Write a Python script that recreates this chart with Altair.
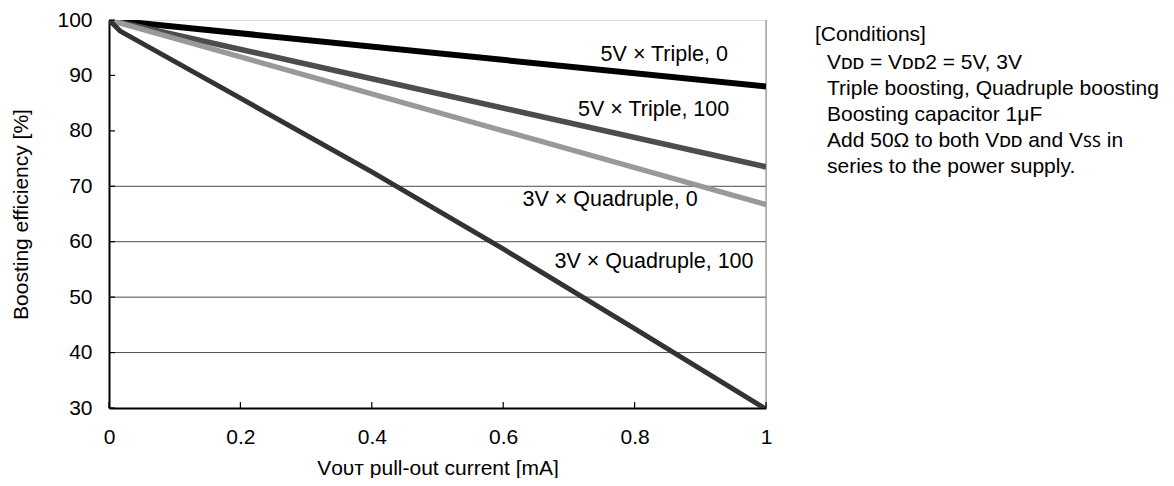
import altair as alt
import pandas as pd

# ---- data ----
series_names = ["5V × Triple, 0", "5V × Triple, 100", "3V × Quadruple, 0", "3V × Quadruple, 100"]
x_5v_tri_0 = [0, 1.0]
y_5v_tri_0 = [100, 88.0]
x_5v_tri_100 = [0, 1.0]
y_5v_tri_100 = [100, 73.5]
x_3v_quad_0 = [0, 1.0]
y_3v_quad_0 = [100, 66.7]
x_3v_quad_100 = [0, 0.017, 0.2, 0.4, 0.6, 0.8, 1.0]
y_3v_quad_100 = [100, 98.0, 85.9, 72.6, 58.7, 44.3, 29.8]

series_colors = ["#000000", "#4d4d4d", "#999999", "#333333"]
series_widths = [6, 5, 5, 6]

label_x = [0.942, 0.944, 0.896, 0.981]
label_y = [93.6, 83.8, 67.5, 56.4]

x_ticks = [0, 0.2, 0.4, 0.6, 0.8, 1.0]
y_ticks = [30, 40, 50, 60, 70, 80, 90, 100]
grid_values = [40, 50, 60, 70]

conditions_title = "[Conditions]"
conditions_lines = [
    "Vᴅᴅ = Vᴅᴅ2 = 5V, 3V",
    "Triple boosting, Quadruple boosting",
    "Boosting capacitor 1μF",
    "Add 50Ω to both Vᴅᴅ and Vꜱꜱ in",
    "series to the power supply.",
]

W, H = 657, 388
FONT = "Liberation Sans"
FS = 21

rows = []
for name, xs, ys in zip(series_names,
                        [x_5v_tri_0, x_5v_tri_100, x_3v_quad_0, x_3v_quad_100],
                        [y_5v_tri_0, y_5v_tri_100, y_3v_quad_0, y_3v_quad_100]):
    for i, (a, b) in enumerate(zip(xs, ys)):
        rows.append({"series": name, "x": a, "y": b, "order": i})
lines_df = pd.DataFrame(rows)

xscale = alt.Scale(domain=[0, 1], nice=False, zero=False)
yscale = alt.Scale(domain=[30, 100], nice=False, zero=False)

x_axis = alt.Axis(title="Vᴏᴜᴛ pull-out current [mA]", values=x_ticks, format="~g",
                  grid=False, ticks=False, domainColor="#000000", domainWidth=2,
                  labelPadding=18, labelFontSize=FS, labelFont=FONT, labelColor="#000000",
                  titleFontSize=FS, titleFont=FONT, titleFontWeight="normal",
                  titleColor="#000000", titlePadding=10, labelFlush=False)
y_axis = alt.Axis(title="Boosting efficiency [%]", values=y_ticks,
                  grid=False, ticks=False, domainColor="#000000", domainWidth=2,
                  labelPadding=17, labelFontSize=FS, labelFont=FONT, labelColor="#000000",
                  titleFontSize=FS, titleFont=FONT, titleFontWeight="normal",
                  titleColor="#000000", titlePadding=25, labelFlush=False)

grid = alt.Chart(pd.DataFrame({"y": grid_values})).mark_rule(
    color="#4d4d4d", strokeWidth=1
).encode(
    y=alt.Y("y:Q", scale=yscale, axis=y_axis),
    x=alt.value(0), x2=alt.value(W),
)

right_border = alt.Chart(pd.DataFrame({"x": [1.0], "y": [30], "y2": [100]})).mark_rule(
    color="#808080", strokeWidth=1
).encode(
    x=alt.X("x:Q", scale=xscale, axis=x_axis),
    y=alt.Y("y:Q", scale=yscale, axis=y_axis),
    y2="y2:Q",
)

lines = alt.Chart(lines_df).mark_line(clip=True, strokeCap="butt", strokeJoin="miter").encode(
    x=alt.X("x:Q", scale=xscale, axis=x_axis),
    y=alt.Y("y:Q", scale=yscale, axis=y_axis),
    color=alt.Color("series:N", scale=alt.Scale(domain=series_names, range=series_colors), legend=None),
    strokeWidth=alt.StrokeWidth("series:N", scale=alt.Scale(domain=series_names, range=series_widths), legend=None),
    detail="series:N",
    order="order:Q",
)

ytick_marks = alt.Chart(pd.DataFrame({"y": y_ticks})).mark_rule(color="#000000", strokeWidth=1.2).encode(
    y=alt.Y("y:Q", scale=yscale, axis=y_axis),
    x=alt.value(0), x2=alt.value(6),
)
xtick_marks = alt.Chart(pd.DataFrame({"x": x_ticks})).mark_rule(color="#000000", strokeWidth=1.2).encode(
    x=alt.X("x:Q", scale=xscale, axis=x_axis),
    y=alt.value(H), y2=alt.value(H - 6),
)

labels_df = pd.DataFrame({"label": series_names, "x": label_x, "y": label_y})
labels = alt.Chart(labels_df).mark_text(
    align="right", baseline="middle", fontSize=21.5, font=FONT, color="#000000"
).encode(
    x=alt.X("x:Q", scale=xscale, axis=x_axis),
    y=alt.Y("y:Q", scale=yscale, axis=y_axis),
    text="label:N",
)

cond_title = alt.Chart(pd.DataFrame({"t": [conditions_title]})).mark_text(
    align="left", baseline="middle", fontSize=FS, font=FONT, color="#000000"
).encode(x=alt.value(706), y=alt.value(15), text="t:N")

cond_body = alt.Chart(pd.DataFrame({"t": ["\n".join(conditions_lines)]})).mark_text(
    align="left", baseline="top", fontSize=FS, font=FONT, color="#000000",
    lineBreak="\n", lineHeight=26
).encode(x=alt.value(718), y=alt.value(32), text="t:N")

chart = alt.layer(
    grid, right_border, lines, ytick_marks, xtick_marks, labels, cond_title, cond_body
).properties(
    width=W, height=H,
    autosize=alt.AutoSizeParams(type="none"),
    padding={"left": 101, "top": 12, "right": 400, "bottom": 70},
).configure_view(stroke=None).configure(background="#ffffff")

chart.save("out.html", embed_options={"renderer": "svg", "actions": False})
